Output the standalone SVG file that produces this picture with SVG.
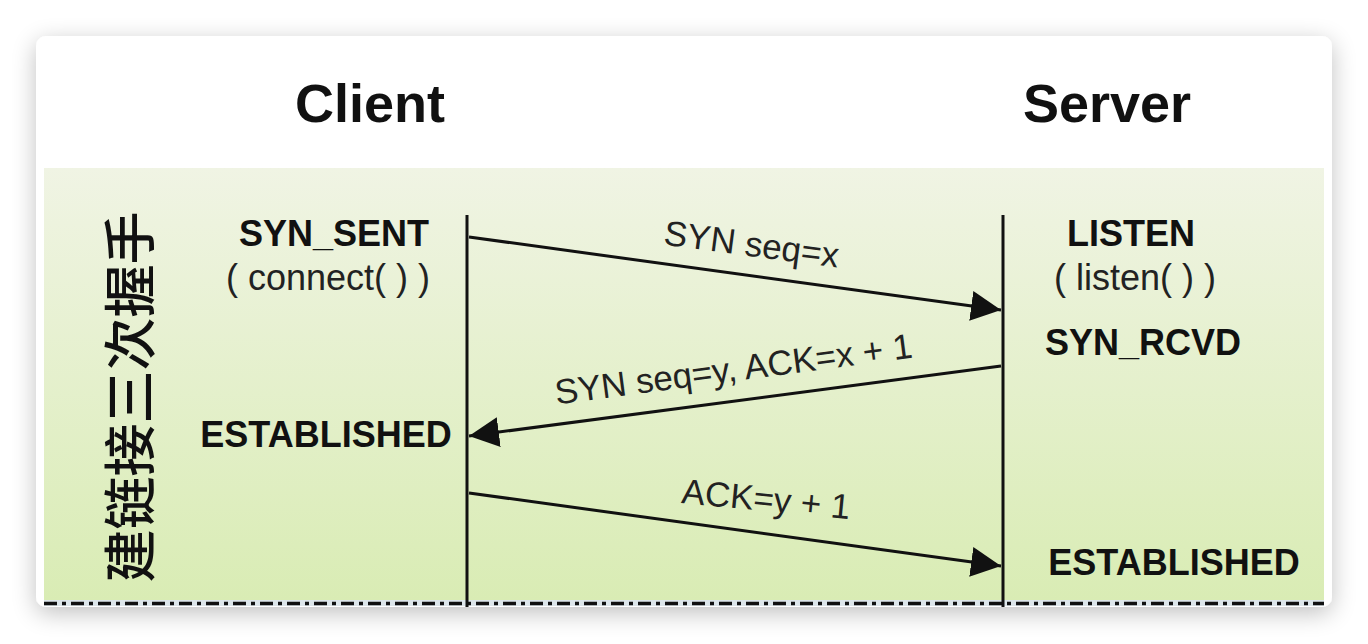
<svg xmlns="http://www.w3.org/2000/svg" width="1368" height="644" viewBox="0 0 1368 644">
  <defs>
    <filter id="shadow" x="-10%" y="-10%" width="120%" height="130%">
      <feGaussianBlur in="SourceAlpha" stdDeviation="12"/>
      <feOffset dy="6"/>
      <feComponentTransfer><feFuncA type="linear" slope="0.25"/></feComponentTransfer>
      <feMerge><feMergeNode/><feMergeNode in="SourceGraphic"/></feMerge>
    </filter>
    <linearGradient id="green" x1="0" y1="0" x2="0" y2="1">
      <stop offset="0" stop-color="#f0f4e4"/>
      <stop offset="1" stop-color="#d9ecb4"/>
    </linearGradient>
    <marker id="arrow" viewBox="0 0 10 10" refX="10" refY="5" markerWidth="10" markerHeight="10" markerUnits="strokeWidth" orient="auto">
      <path d="M0,0 L10,5 L0,10 z" fill="#111"/>
    </marker>
  </defs>
  <style>
    .title { font-family: "Liberation Sans", Arial, sans-serif; font-weight: bold; font-size: 54px; fill: #111; text-anchor: middle; }
    .state { font-family: "Liberation Sans", Arial, sans-serif; font-weight: bold; font-size: 36px; fill: #111; text-anchor: middle; }
    .call { font-family: "Liberation Sans", Arial, sans-serif; font-size: 36px; fill: #222; text-anchor: middle; }
    .msg { font-family: "Liberation Sans", Arial, sans-serif; font-size: 35px; fill: #222; text-anchor: middle; }
    .cjk { font-family: "Noto Sans CJK SC", sans-serif; font-weight: 500; font-size: 53px; fill: #111; text-anchor: middle; dominant-baseline: central; }
    .life { stroke: #111; stroke-width: 3; fill: none; }
    .conn { stroke: #111; stroke-width: 3; fill: none; marker-end: url(#arrow); }
  </style>

  <rect width="1368" height="644" fill="#ffffff"/>
  <g id="card">
    <rect x="36" y="36" width="1296" height="571" rx="10" fill="#ffffff" filter="url(#shadow)"/>
    <rect x="44" y="168" width="1280" height="433" fill="url(#green)"/>
    <rect x="44" y="600" width="1280" height="6" fill="#dde6ea"/>
    <line x1="44" y1="603.5" x2="1324" y2="603.5" stroke="#111" stroke-width="3.5" stroke-dasharray="13 5 4 5"/>
  </g>

  <g id="client-title"><text class="title" x="370" y="122">Client</text></g>
  <g id="server-title"><text class="title" x="1107" y="122">Server</text></g>

  <g id="side-label">
    <text class="cjk" transform="translate(127,397) rotate(-90)">建链接三次握手</text>
  </g>

  <g id="lifelines">
    <line class="life" x1="467" y1="215" x2="467" y2="607"/>
    <line class="life" x1="1003" y1="215" x2="1003" y2="607"/>
  </g>

  <g id="client-syn-sent">
    <text class="state" x="334" y="246">SYN_SENT</text>
    <text class="call" x="328" y="290">( connect( ) )</text>
  </g>
  <g id="client-established">
    <text class="state" x="326" y="447">ESTABLISHED</text>
  </g>
  <g id="server-listen">
    <text class="state" x="1131" y="246">LISTEN</text>
    <text class="call" x="1135" y="290">( listen( ) )</text>
  </g>
  <g id="server-syn-rcvd">
    <text class="state" x="1143" y="355">SYN_RCVD</text>
  </g>
  <g id="server-established">
    <text class="state" x="1174" y="575">ESTABLISHED</text>
  </g>

  <g id="connectors">
    <line class="conn" x1="469" y1="237" x2="1001" y2="310"/>
    <line class="conn" x1="1001" y1="366" x2="469" y2="436"/>
    <line class="conn" x1="469" y1="493" x2="1001" y2="566"/>
    <text class="msg" transform="translate(750,256) rotate(7.5)">SYN seq=x</text>
    <text class="msg" transform="translate(735,381) rotate(-7.5)">SYN seq=y, ACK=x + 1</text>
    <text class="msg" transform="translate(765,511) rotate(5.5)">ACK=y + 1</text>
  </g>
</svg>
